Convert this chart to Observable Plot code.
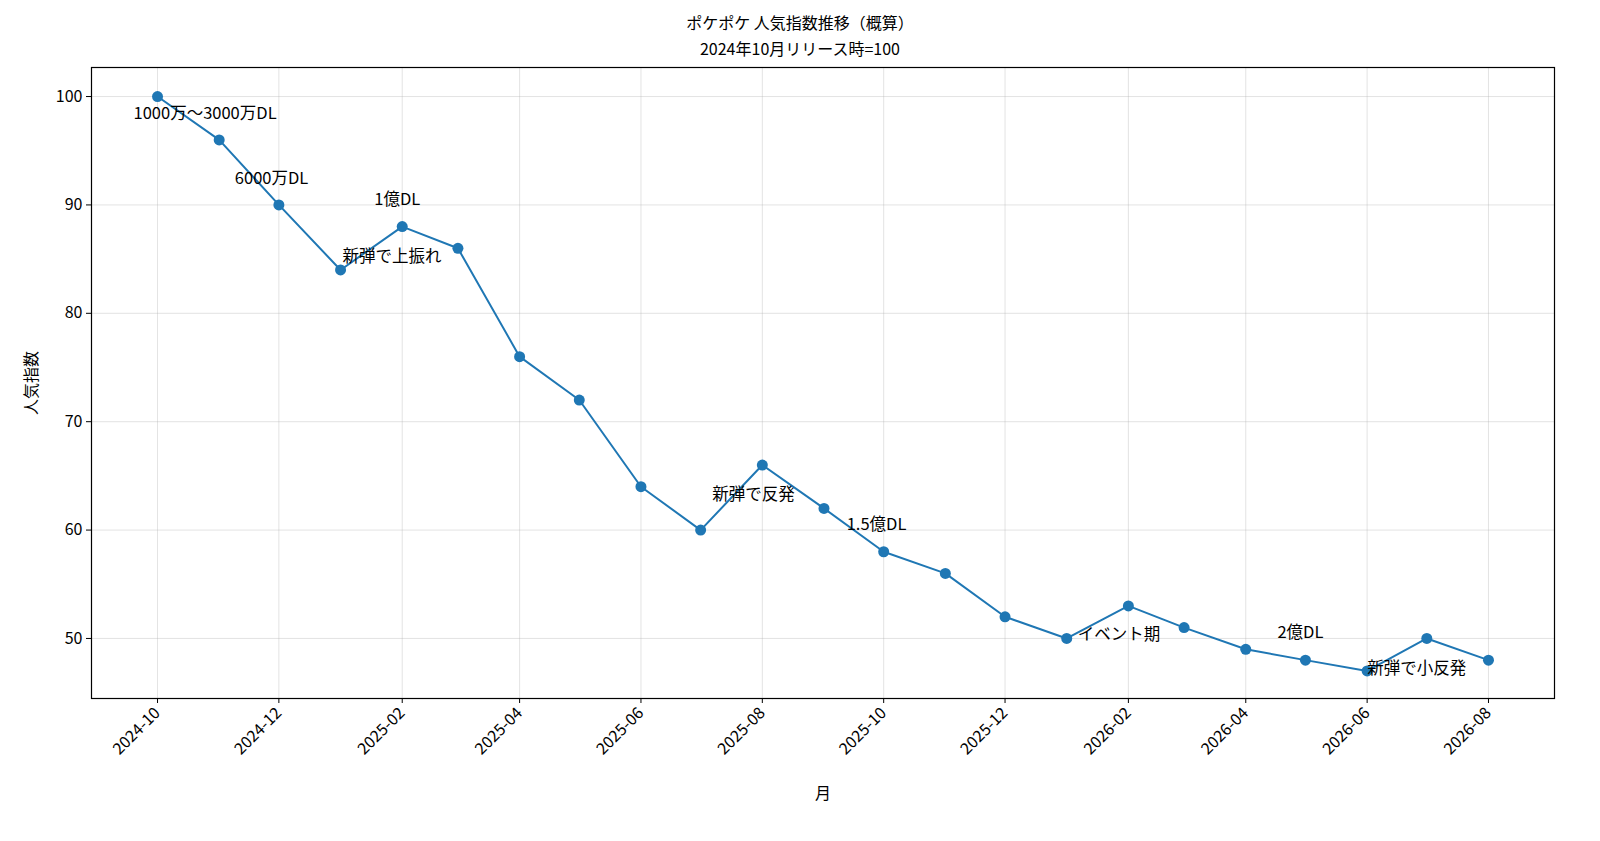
<!DOCTYPE html>
<html><head><meta charset="utf-8">
<script src="https://cdn.jsdelivr.net/npm/d3@7"></script>
<script src="https://cdn.jsdelivr.net/npm/@observablehq/plot@0.6"></script>
<style>
html,body{margin:0;padding:0;background:#fff;overflow:hidden;width:1600px;height:841px;font-family:"Noto Sans CJK JP","Noto Sans",sans-serif;}
#title{height:60px;text-align:center;font-size:16px;line-height:26px;padding-top:9px;box-sizing:border-box;color:#000;}
#chart svg{display:block;}
</style></head><body>
<div id="title">ポケポケ 人気指数推移（概算）<br>2024年10月リリース時=100</div>
<div id="chart"></div>
<script>
const months = ["2024-10","2024-11","2024-12","2025-01","2025-02","2025-03","2025-04","2025-05","2025-06","2025-07","2025-08","2025-09","2025-10","2025-11","2025-12","2026-01","2026-02","2026-03","2026-04","2026-05","2026-06","2026-07","2026-08"];
const values = [100,96,90,84,88,86,76,72,64,60,66,62,58,56,52,50,53,51,49,48,47,50,48];
const tickMonths = ["2024-10","2024-12","2025-02","2025-04","2025-06","2025-08","2025-10","2025-12","2026-02","2026-04","2026-06","2026-08"];
const yTicks = [50,60,70,80,90,100];
const notes = [
  {m:"2024-10", text:"1000万〜3000万DL", dx:-24, dy:17},
  {m:"2024-12", text:"6000万DL", dx:-44, dy:-26},
  {m:"2025-02", text:"1億DL", dx:-28, dy:-27},
  {m:"2025-01", text:"新弾で上振れ", dx:2, dy:-13},
  {m:"2025-08", text:"新弾で反発", dx:-50, dy:30},
  {m:"2025-10", text:"1.5億DL", dx:-37, dy:-27},
  {m:"2026-01", text:"イベント期", dx:11, dy:-4},
  {m:"2026-05", text:"2億DL", dx:-28, dy:-27},
  {m:"2026-06", text:"新弾で小反発", dx:0, dy:-2}
];
const parse = s => new Date(s + "-01T00:00:00Z");
const data = months.map((m,i)=>({date:parse(m), v:values[i]}));
const val = Object.fromEntries(months.map((m,i)=>[m,values[i]]));
const x0 = parse("2024-10").getTime(), x1 = parse("2026-08").getTime();
const pad = (x1-x0)*0.0496;
const font = '"Noto Sans CJK JP","Noto Sans",sans-serif';
const blue = "#1f77b4";
const plot = Plot.plot({
  width:1600, height:781,
  marginTop:7, marginBottom:143, marginLeft:91, marginRight:46,
  style:{fontFamily:font, fontSize:"16px", color:"#000", background:"#fff"},
  x:{type:"utc", domain:[new Date(x0-pad), new Date(x1+pad)]},
  y:{domain:[44.46,102.68]},
  marks:[
    Plot.gridX(tickMonths.map(parse), {stroke:"#b0b0b0", strokeOpacity:0.35}),
    Plot.gridY(yTicks, {stroke:"#b0b0b0", strokeOpacity:0.35}),
    Plot.axisX(tickMonths.map(parse), {tickFormat:d3.utcFormat("%Y-%m"), tickRotate:-45, tickSize:5, fontSize:16, label:"月", labelAnchor:"center", labelArrow:"none", labelOffset:100}),
    Plot.axisY(yTicks, {tickSize:5, fontSize:16, label:"人気指数", labelAnchor:"center", labelArrow:"none", labelOffset:66}),
    Plot.frame({stroke:"#000", strokeWidth:1.2}),
    Plot.line(data, {x:"date", y:"v", stroke:blue, strokeWidth:2}),
    Plot.dot(data, {x:"date", y:"v", fill:blue, r:5.5}),
    ...notes.map(n => Plot.text([{date:parse(n.m), v:val[n.m]}], {x:"date", y:"v", text:()=>n.text, dx:n.dx, dy:n.dy, textAnchor:"start", fontSize:16.5, fill:"#000"}))
  ]
});
document.getElementById("chart").appendChild(plot);
</script></body></html>
